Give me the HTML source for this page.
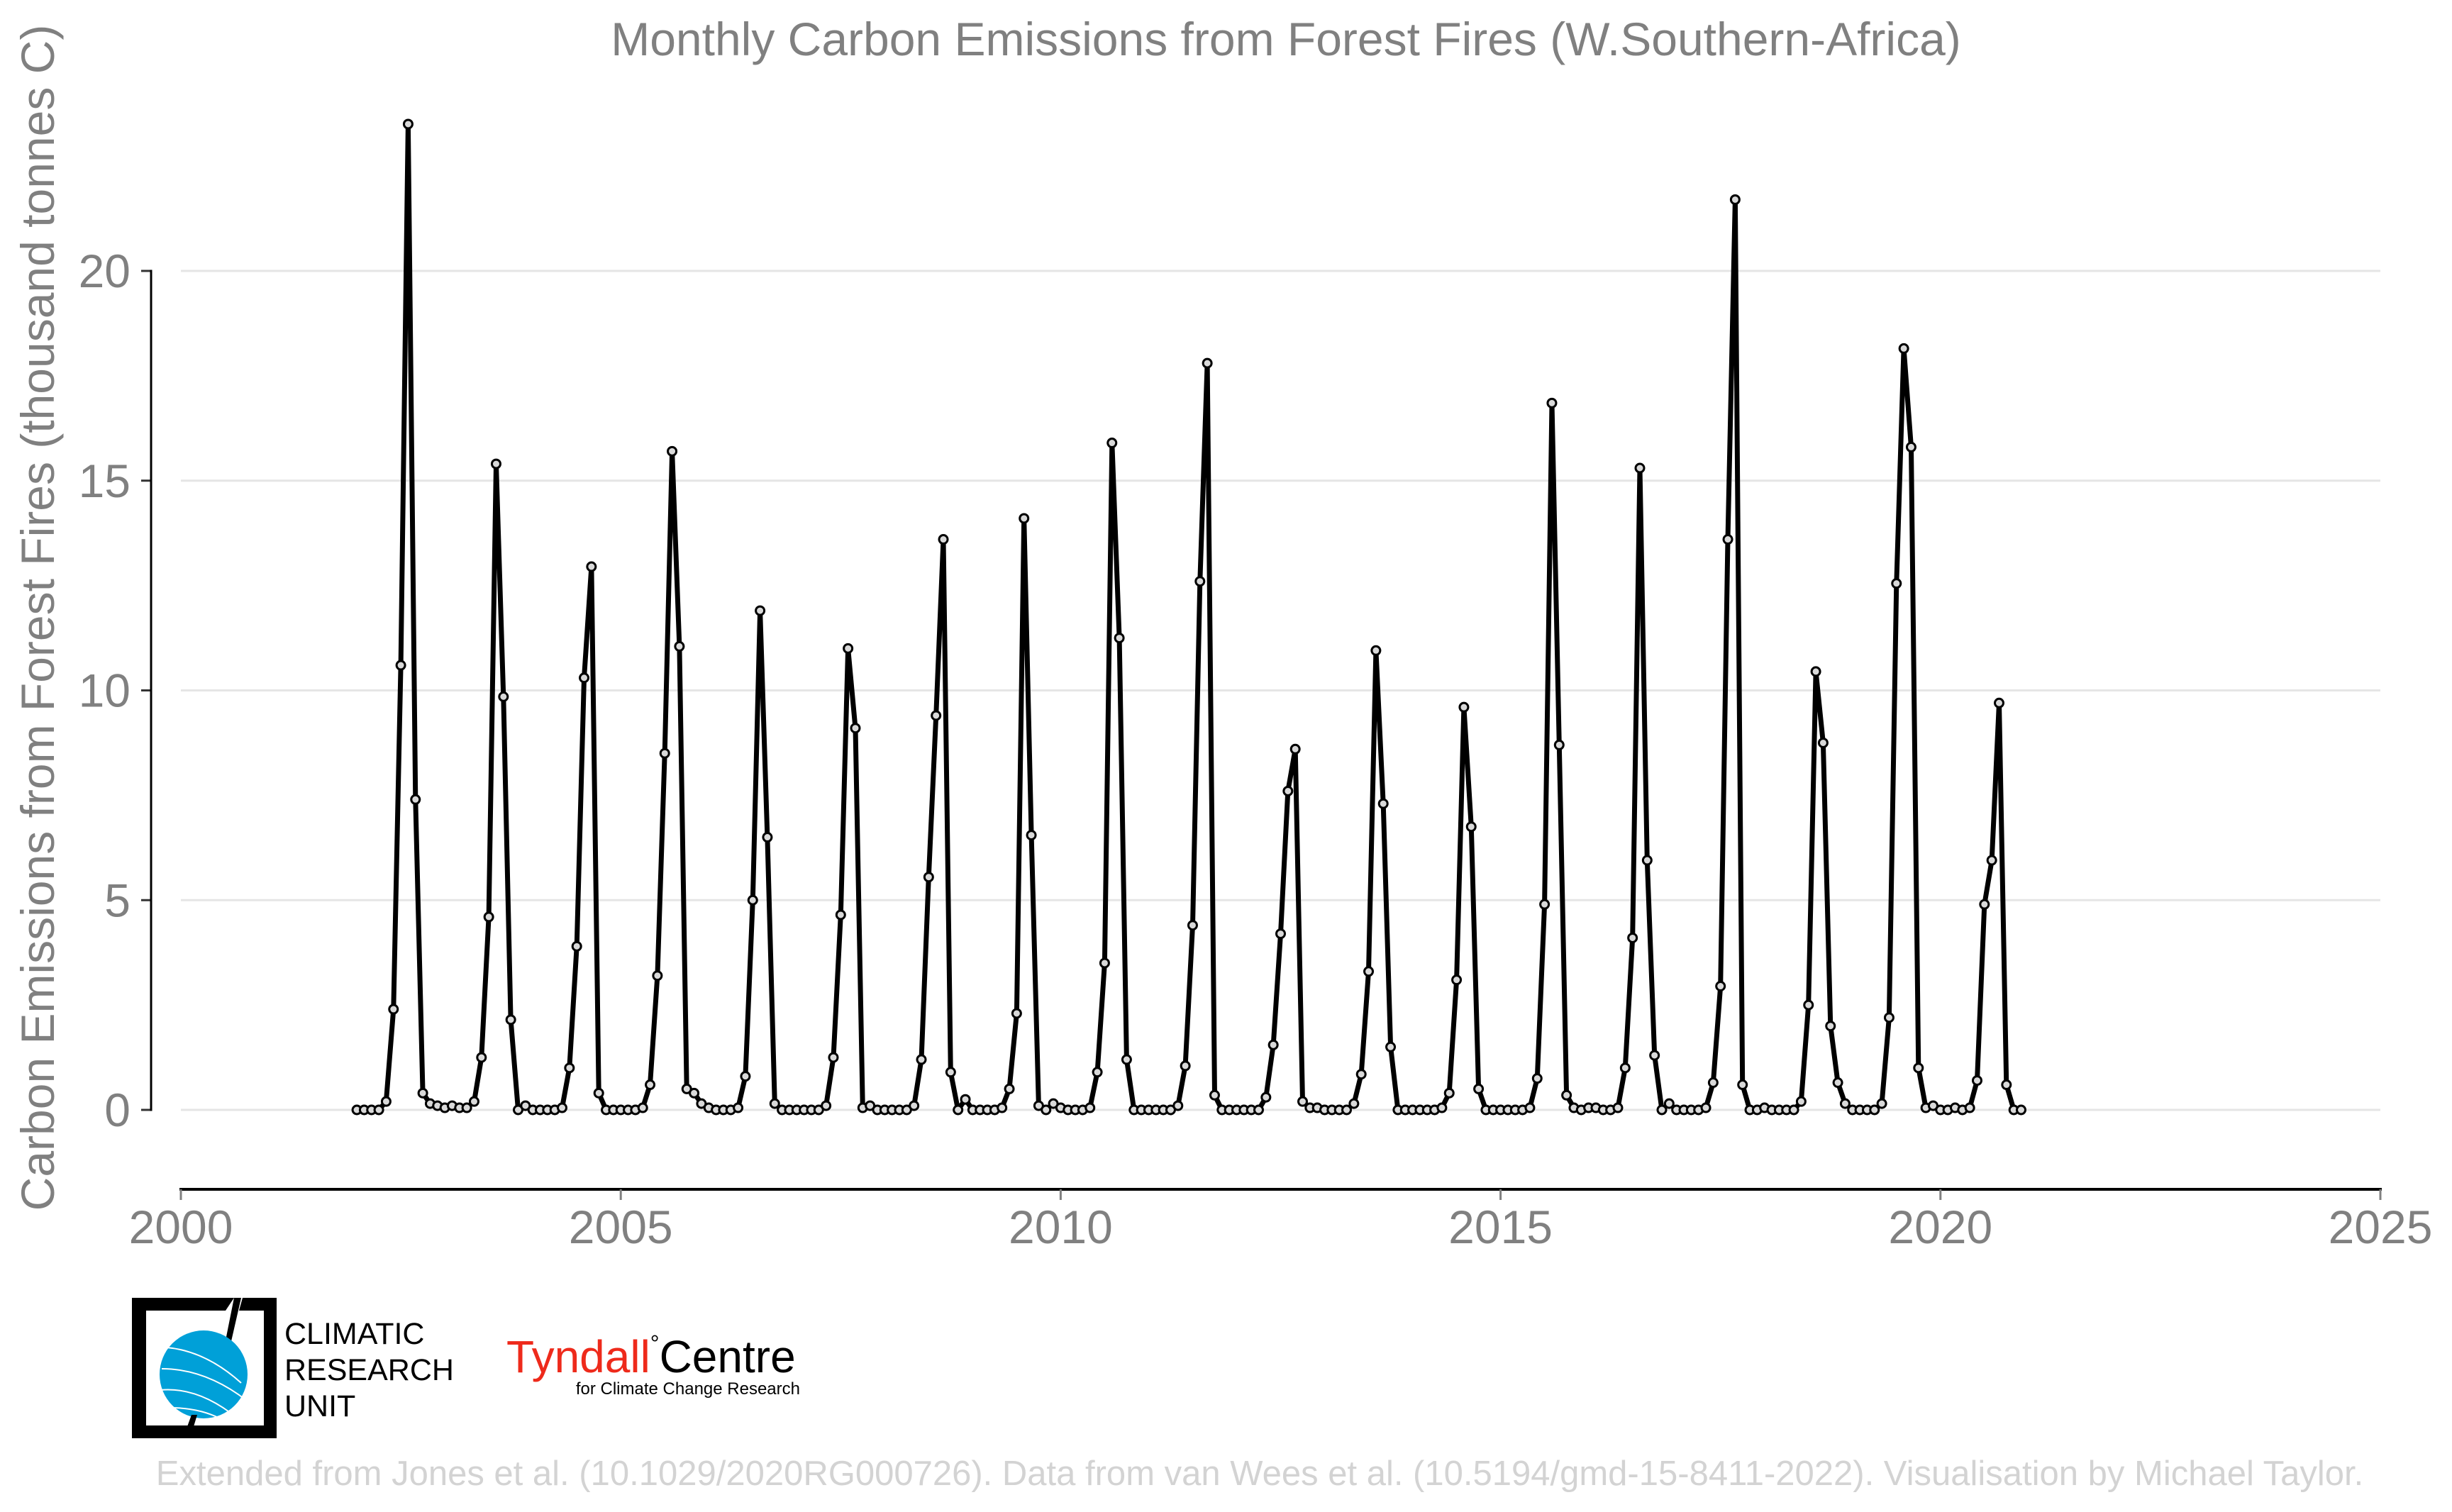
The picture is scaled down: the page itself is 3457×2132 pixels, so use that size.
<!DOCTYPE html>
<html><head><meta charset="utf-8"><style>
html,body{margin:0;padding:0;background:#fff;}
svg{display:block;font-family:"Liberation Sans",Arial,sans-serif;}
</style></head><body>
<svg id="chart" width="3457" height="2132" viewBox="0 0 3457 2132" xmlns="http://www.w3.org/2000/svg">
<rect width="3457" height="2132" fill="#fff"/>
<text x="1813" y="78" font-size="66" fill="#808080" text-anchor="middle">Monthly Carbon Emissions from Forest Fires (W.Southern-Africa)</text>
<text transform="translate(76,871) rotate(-90)" font-size="66" fill="#808080" text-anchor="middle">Carbon Emissions from Forest Fires (thousand tonnes C)</text>
<g id="grid"></g>
<g id="axes"></g>
<g id="series"></g>
<g>
<path d="M186,1830 H330 L318,1848 H206 V2010 H262 L256,2028 H186 Z" fill="#000"/>
<path d="M342,1830 H390 V2028 H240 L246,2010 H372 V1848 H337 Z" fill="#000"/>
<path d="M330,1830 L316,1900 L324,1900 L340,1830 Z" fill="#000"/>
<circle cx="287" cy="1938" r="62" fill="#00a0d8"/>
<path d="M235,1900 Q290,1905 340,1950 M228,1930 Q290,1930 348,1975 M226,1960 Q280,1955 335,2000 M240,1985 Q280,1985 310,2000" stroke="#fff" stroke-width="2" fill="none"/>
<path d="M270,1995 L258,2028 L268,2028 L278,1995 Z" fill="#000"/>
<text x="401" y="1895" font-size="43" fill="#000">CLIMATIC</text>
<text x="401" y="1946" font-size="43" fill="#000">RESEARCH</text>
<text x="401" y="1997" font-size="43" fill="#000">UNIT</text>
</g>
<g>
<text x="714" y="1935" font-size="64"><tspan fill="#ee2a1b">Tyndall</tspan><tspan fill="#000" font-size="32" dy="-30">°</tspan><tspan fill="#000" dy="30">Centre</tspan></text>
<text x="1128" y="1966" font-size="24" fill="#000" text-anchor="end">for Climate Change Research</text>
</g>
<text x="1776" y="2094" font-size="49" fill="#d3d3d3" text-anchor="middle">Extended from Jones et al. (10.1029/2020RG000726). Data from van Wees et al. (10.5194/gmd-15-8411-2022). Visualisation by Michael Taylor.</text>
</svg>
<script>
const startYear = 2002;
const emissions = [
0,0,0,0,0.2,2.4,10.6,23.5,7.4,0.4,0.15,0.1,
0.05,0.1,0.05,0.05,0.2,1.25,4.6,15.4,9.85,2.15,0,0.1,
0,0,0,0,0.05,1.0,3.9,10.3,12.95,0.4,0,0,
0,0,0,0.05,0.6,3.2,8.5,15.7,11.05,0.5,0.4,0.15,
0.05,0,0,0,0.05,0.8,5.0,11.9,6.5,0.15,0,0,
0,0,0,0,0.1,1.25,4.65,11.0,9.1,0.05,0.1,0,
0,0,0,0,0.1,1.2,5.55,9.4,13.6,0.9,0,0.25,
0,0,0,0,0.05,0.5,2.3,14.1,6.55,0.1,0,0.15,
0.05,0,0,0,0.05,0.9,3.5,15.9,11.25,1.2,0,0,
0,0,0,0,0.1,1.05,4.4,12.6,17.8,0.35,0,0,
0,0,0,0,0.3,1.55,4.2,7.6,8.6,0.2,0.05,0.05,
0,0,0,0,0.15,0.85,3.3,10.95,7.3,1.5,0,0,
0,0,0,0,0.05,0.4,3.1,9.6,6.75,0.5,0,0,
0,0,0,0,0.05,0.75,4.9,16.85,8.7,0.35,0.05,0,
0.05,0.05,0,0,0.05,1.0,4.1,15.3,5.95,1.3,0,0.15,
0,0,0,0,0.05,0.65,2.95,13.6,21.7,0.6,0,0,
0.05,0,0,0,0,0.2,2.5,10.45,8.75,2.0,0.65,0.15,
0,0,0,0,0.15,2.2,12.55,18.15,15.8,1.0,0.05,0.1,
0,0,0.05,0,0.05,0.7,4.9,5.95,9.7,0.6,0,0
];
const xTicks = [2000,2005,2010,2015,2020,2025];
const yTicks = [0,5,10,15,20];

const NS="http://www.w3.org/2000/svg";
const X0=255,X1=3356,Y0=1565,Y20=382,XAXIS=1677;
const xs = y => X0 + (y-2000)/25*(X1-X0);
const ys = v => Y0 - v/20*(Y0-Y20);
function mk(tag, attrs, parent){const e=document.createElementNS(NS,tag);for(const k in attrs)e.setAttribute(k,attrs[k]);parent.appendChild(e);return e;}
const grid=document.getElementById('grid'), axes=document.getElementById('axes'), series=document.getElementById('series');
yTicks.forEach(t=>{
  const g=mk('line',{x1:255,x2:X1,y1:ys(t),y2:ys(t),stroke:'#e5e5e5','stroke-width':3},grid);
  
  
  const tk=mk('line',{x1:199,x2:213,y1:ys(t),y2:ys(t),stroke:'#333','stroke-width':3},axes);
  
  
  const lb=mk('text',{x:184,y:ys(t)+23,'font-size':66,fill:'#808080','text-anchor':'end'},axes);
  lb.textContent=t;
  
  
});
const yl=mk('line',{x1:213,x2:213,y1:ys(20)-1.5,y2:ys(0)+1.5,stroke:'#000','stroke-width':3},axes);


const xl=mk('line',{x1:xs(2000)-2,x2:xs(2025)+2,y1:XAXIS,y2:XAXIS,stroke:'#000','stroke-width':4},axes);


xTicks.forEach(t=>{
  const tk=mk('line',{x1:xs(t),x2:xs(t),y1:XAXIS,y2:XAXIS+15,stroke:'#808080','stroke-width':3},axes);
  
  
  const lb=mk('text',{x:xs(t),y:XAXIS+76,'font-size':66,fill:'#808080','text-anchor':'middle'},axes);
  lb.textContent=t;
  
  
});
const pts=emissions.map((v,i)=>[xs(startYear+i/12),ys(v)]);
const line=mk('polyline',{points:pts.map(p=>p[0].toFixed(1)+','+p[1].toFixed(1)).join(' '),fill:'none',stroke:'#000','stroke-width':7,'stroke-linejoin':'round'},series);


pts.forEach((p,i)=>{
  const c=mk('circle',{cx:p[0],cy:p[1],r:6,fill:'#d9d9d9',stroke:'#000','stroke-width':3},series);
  
  
});
</script>
</body></html>
